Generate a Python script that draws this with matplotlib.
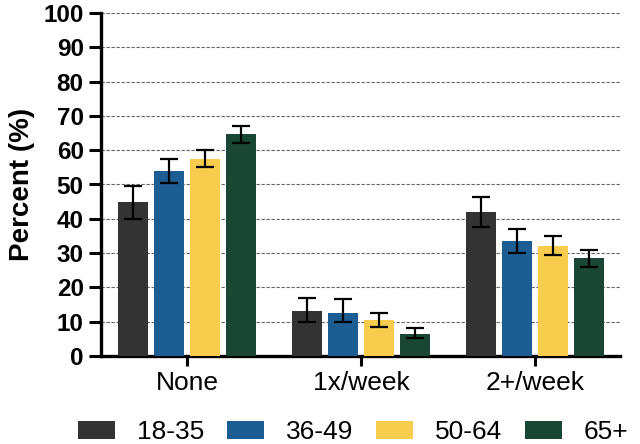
import matplotlib
matplotlib.use("Agg")
import matplotlib.pyplot as plt
import numpy as np

categories = ["None", "1x/week", "2+/week"]
groups = ["18-35", "36-49", "50-64", "65+"]
values = {
    "18-35": [44.9, 13.0, 42.0],
    "36-49": [54.0, 12.5, 33.5],
    "50-64": [57.5, 10.5, 32.0],
    "65+":   [64.7, 6.5, 28.5],
}
err_low = {
    "18-35": [40.0, 10.0, 37.5],
    "36-49": [50.5, 10.0, 30.0],
    "50-64": [55.0, 8.5, 29.5],
    "65+":   [62.0, 5.3, 26.0],
}
err_high = {
    "18-35": [49.5, 17.0, 46.5],
    "36-49": [57.5, 16.5, 37.0],
    "50-64": [60.0, 12.5, 35.0],
    "65+":   [67.0, 8.3, 31.0],
}
colors = ["#333333", "#1c5e94", "#f8cd4d", "#1a4733"]

plt.rcParams['font.family'] = ['Liberation Sans', 'DejaVu Sans']
fig = plt.figure(figsize=(6.4, 4.44), dpi=100)
ax = fig.add_axes([101/640, 88/444, 519/640, 343/444])

x = np.arange(len(categories))
width = 0.172
pitch = 0.207
for i, g in enumerate(groups):
    pos = x + (i - 1.5) * pitch
    v = np.array(values[g])
    lo = v - np.array(err_low[g])
    hi = np.array(err_high[g]) - v
    ax.bar(pos, v, width, color=colors[i], label=g, zorder=3)
    ax.errorbar(pos, v, yerr=[lo, hi], fmt='none', ecolor='black',
                elinewidth=1.6, capsize=6.5, capthick=1.6, zorder=4)

ax.set_ylim(0, 100)
ax.set_xlim(-0.494, 2.489)
ax.set_yticks(np.arange(0, 101, 10))
ax.set_xticks(x)
ax.set_xticklabels(categories, fontsize=19)
for lab in ax.get_yticklabels():
    lab.set_fontweight('bold')
    lab.set_fontsize(17.5)
ax.set_ylabel("Percent (%)", fontsize=20, fontweight='bold', labelpad=6)
ax.yaxis.grid(True, linestyle=(0, (3, 1.5)), color='#666666', linewidth=0.8, zorder=0)
ax.set_axisbelow(True)
for s in ['top', 'right']:
    ax.spines[s].set_visible(False)
for s in ['left', 'bottom']:
    ax.spines[s].set_linewidth(2.4)
ax.tick_params(axis='y', width=2.2, length=8.5, color='black', pad=4)
ax.tick_params(axis='x', width=2.2, length=7, color='black', pad=4)

fig.legend(*ax.get_legend_handles_labels(), loc='center',
           bbox_to_anchor=(0.552, 0.026), ncol=4, frameon=False,
           fontsize=19, handlelength=1.4, handleheight=0.68, columnspacing=0.87,
           handletextpad=0.83, borderpad=0, borderaxespad=0)

fig.savefig("out.png", dpi=100)
